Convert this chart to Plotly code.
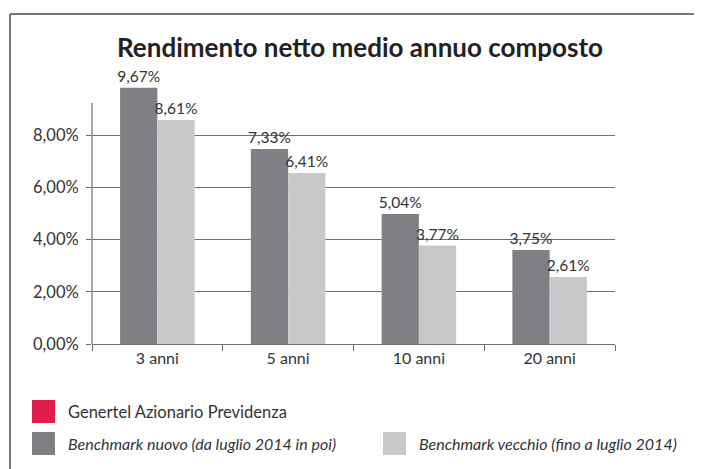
import plotly.graph_objects as go

# ---- data ----
categories = ["3 anni", "5 anni", "10 anni", "20 anni"]
# bar heights as drawn in the picture (percent)
nuovo_heights = [9.82, 7.47, 4.98, 3.60]
vecchio_heights = [8.58, 6.55, 3.77, 2.57]
# values printed on the labels (percent)
nuovo_values = [9.67, 7.33, 5.04, 3.75]
vecchio_values = [8.61, 6.41, 3.77, 2.61]
y_tickvals = [0, 2, 4, 6, 8]
y_ticktext = ["0,00%", "2,00%", "4,00%", "6,00%", "8,00%"]
legend_labels = [
    "Genertel Azionario Previdenza",
    "Benchmark nuovo (da luglio 2014 in poi)",
    "Benchmark vecchio (fino a luglio 2014)",
]

DARK = "#808084"
LIGHT = "#c8c9cb"
RED = "#e01e4c"
TXT = "#333333"
GRID = "#6e6e6e"


def fmt(v):
    return f"{v:.2f}%".replace(".", ",")


OFF = 8  # page body margin
W, H = 702 - OFF, 469 - OFF
L, R, T, B = 92 - OFF, 87, 83 - OFF, 125
PW, PH = W - L - R, H - T - B


def px(x):
    return (x - OFF - L) / PW


def py(y):
    return (H - B - (y - OFF)) / PH


fig = go.Figure()
fig.add_trace(go.Bar(
    x=categories, y=nuovo_heights, name=legend_labels[1],
    marker=dict(color=DARK, line=dict(width=0)),
    text=[fmt(v) for v in nuovo_values], textposition="outside",
    textfont=dict(size=15.5, color=TXT), constraintext="none", cliponaxis=False,
))
fig.add_trace(go.Bar(
    x=categories, y=vecchio_heights, name=legend_labels[2],
    marker=dict(color=LIGHT, line=dict(width=0)),
    text=[fmt(v) for v in vecchio_values], textposition="outside",
    textfont=dict(size=15.5, color=TXT), constraintext="none", cliponaxis=False,
))

fig.update_layout(
    width=W, height=H,
    margin=dict(l=L, r=R, t=T, b=B, pad=0),
    paper_bgcolor="white", plot_bgcolor="white",
    font=dict(family="Lato", color=TXT, size=16),
    showlegend=False,
    barmode="group", bargap=0.43, bargroupgap=0,
    xaxis=dict(
        type="category", showline=True, linecolor=GRID, linewidth=1.2,
        ticks="outside", tickson="boundaries", ticklen=6, tickcolor=GRID,
        tickwidth=1.2, showgrid=False, tickfont=dict(size=16, color=TXT),
        fixedrange=True,
    ),
    yaxis=dict(
        range=[0, 10], tickvals=y_tickvals, ticktext=y_ticktext,
        showgrid=True, gridcolor=GRID, gridwidth=1.2, zeroline=False,
        showline=False, ticks="outside", ticklen=5, tickcolor=GRID,
        tickwidth=1.2, ticklabelstandoff=4, tickfont=dict(size=16.5, color=TXT),
        fixedrange=True,
    ),
)

shapes = []
# y axis line (shorter than plotting range)
shapes.append(dict(type="line", xref="paper", yref="y", x0=0, x1=0, y0=0, y1=9.23,
                   line=dict(color=GRID, width=1.2)))
# outer frame: left and top
shapes.append(dict(type="line", xref="paper", yref="paper", x0=px(10), x1=px(10),
                   y0=py(14), y1=py(480), line=dict(color="#777777", width=2)))
shapes.append(dict(type="line", xref="paper", yref="paper", x0=px(10), x1=px(710),
                   y0=py(14), y1=py(14), line=dict(color="#777777", width=2)))

# legend squares
legend_items = [
    (32, 400, RED, legend_labels[0], False, 66),
    (32, 432, DARK, legend_labels[1], True, 66),
    (383, 432, LIGHT, legend_labels[2], True, 417),
]
annotations = []
for (x0, y0, col, lab, ital, tx) in legend_items:
    shapes.append(dict(type="rect", xref="paper", yref="paper",
                       x0=px(x0), x1=px(x0 + 23), y0=py(y0), y1=py(y0 + 23),
                       fillcolor=col, line=dict(width=0)))
    annotations.append(dict(
        xref="paper", yref="paper", x=px(tx), y=py(y0 + 11.5),
        xanchor="left", yanchor="middle", showarrow=False,
        text=f"<i>{lab}</i>" if ital else lab,
        font=dict(size=16.5 if not ital else 16, color=TXT, family="Lato"),
    ))

annotations.append(dict(
    xref="paper", yref="paper", x=px(360), y=py(47), xanchor="center",
    yanchor="middle", showarrow=False,
    text="<b>Rendimento netto medio annuo composto</b>",
    font=dict(size=26, color="#222222", family="Lato"),
))

fig.update_layout(shapes=shapes, annotations=annotations)
fig.write_html("out.html")
